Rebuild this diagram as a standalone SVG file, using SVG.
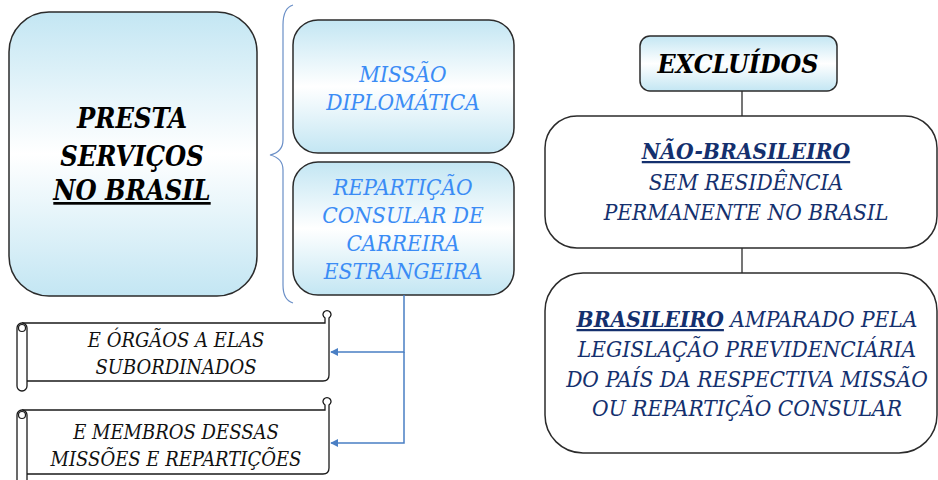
<svg xmlns="http://www.w3.org/2000/svg" width="938" height="480" viewBox="0 0 938 480">
<defs>
<linearGradient id="g" x1="0" y1="0" x2="0" y2="1">
<stop offset="0" stop-color="#c3e6f3"/>
<stop offset="0.5" stop-color="#ffffff"/>
<stop offset="1" stop-color="#c3e6f3"/>
</linearGradient>
<marker id="ah" viewBox="0 0 10 10" refX="9" refY="5" markerWidth="8" markerHeight="8" markerUnits="userSpaceOnUse" orient="auto">
<path d="M0,0 L10,5 L0,10 z" fill="#4a7fc4"/>
</marker>
<style>
.box{fill:url(#g);stroke:#2b2b2b;stroke-width:1.5}
.wbox{fill:#fff;stroke:#2b2b2b;stroke-width:1.5}
.scroll{fill:#fff;stroke:#1a1a1a;stroke-width:1.3}
text{font-family:'DejaVu Serif Condensed','DejaVu Serif','Liberation Serif',serif;font-style:italic;text-anchor:middle}
.big{font-size:27px;font-weight:bold;fill:#000}
.mid{font-size:22.5px;fill:#3b8cf5}
.nav{font-size:22.5px;fill:#14306e}
.sc{font-size:20px;fill:#111}
.conn{fill:none;stroke:#4a7fc4;stroke-width:1.5}
.blk{fill:none;stroke:#2b2b2b;stroke-width:1.3}
</style>
</defs>

<g id="presta">
<rect class="box" x="9" y="12" width="248" height="284" rx="40"/>
<text class="big" x="132" y="128">PRESTA</text>
<text class="big" x="132" y="166">SERVIÇOS</text>
<text class="big" x="132" y="200" text-decoration="underline">NO BRASIL</text>
</g>

<g id="brace">
<path d="M293,5 Q283,8 283,25 L283,140 Q283,152 270,155 Q283,158 283,170 L283,285 Q283,300 293,303" fill="none" stroke="#6a8fc7" stroke-width="1.2"/>
</g>

<g id="missao">
<rect class="box" x="293" y="20" width="221" height="133" rx="25"/>
<text class="mid" x="403" y="82">MISSÃO</text>
<text class="mid" x="403" y="110">DIPLOMÁTICA</text>
</g>

<g id="reparticao">
<rect class="box" x="293" y="162" width="221" height="133" rx="25"/>
<text class="mid" x="403" y="195">REPARTIÇÃO</text>
<text class="mid" x="403" y="223">CONSULAR DE</text>
<text class="mid" x="403" y="251">CARREIRA</text>
<text class="mid" x="403" y="279">ESTRANGEIRA</text>
</g>

<g id="scroll1">
<path class="scroll" d="M22,323 L325,323 L325,318 A4,4 0 1 1 329,318 L329,375 Q329,381 323,381 L27,381"/>
<path class="scroll" d="M17,328 A5,5 0 0 1 27,328 L27,386 A5,5 0 0 1 17,386 Z"/>
<circle cx="22" cy="328" r="3.5" fill="none" stroke="#1a1a1a" stroke-width="1.2"/>
<text class="sc" x="176" y="347">E ÓRGÃOS A ELAS</text>
<text class="sc" x="176" y="374">SUBORDINADOS</text>
</g>

<g id="scroll2">
<path class="scroll" d="M22,410 L325,410 L325,405 A4,4 0 1 1 329,405 L329,468 Q329,474 323,474 L27,474"/>
<path class="scroll" d="M17,415 A5,5 0 0 1 27,415 L27,490 L17,490 Z"/>
<circle cx="22" cy="415" r="3.5" fill="none" stroke="#1a1a1a" stroke-width="1.2"/>
<text class="sc" x="176" y="439">E MEMBROS DESSAS</text>
<text class="sc" x="176" y="466">MISSÕES E REPARTIÇÕES</text>
</g>

<g id="excluidos">
<rect class="box" x="640" y="36" width="197" height="55" rx="10"/>
<text class="big" x="738" y="73" style="font-size:26.5px">EXCLUÍDOS</text>
</g>

<g id="nao-brasileiro">
<rect class="wbox" x="545" y="116" width="392" height="132" rx="32"/>
<text class="nav" x="746" y="159" font-weight="bold" text-decoration="underline">NÃO-BRASILEIRO</text>
<text class="nav" x="746" y="190">SEM RESIDÊNCIA</text>
<text class="nav" x="746" y="220">PERMANENTE NO BRASIL</text>
</g>

<g id="brasileiro">
<rect class="wbox" x="545" y="273" width="392" height="180" rx="38"/>
<text class="nav" x="747" y="327"><tspan font-weight="bold" text-decoration="underline">BRASILEIRO</tspan> AMPARADO PELA</text>
<text class="nav" x="747" y="357">LEGISLAÇÃO PREVIDENCIÁRIA</text>
<text class="nav" x="747" y="387">DO PAÍS DA RESPECTIVA MISSÃO</text>
<text class="nav" x="747" y="416">OU REPARTIÇÃO CONSULAR</text>
</g>

<g id="connectors">
<path class="conn" d="M404,295 L404,352 L331,352" marker-end="url(#ah)"/>
<path class="conn" d="M404,352 L404,443 L331,443" marker-end="url(#ah)"/>
<path class="blk" d="M742,91 L742,116"/>
<path class="blk" d="M742,248 L742,273"/>
</g>
</svg>
